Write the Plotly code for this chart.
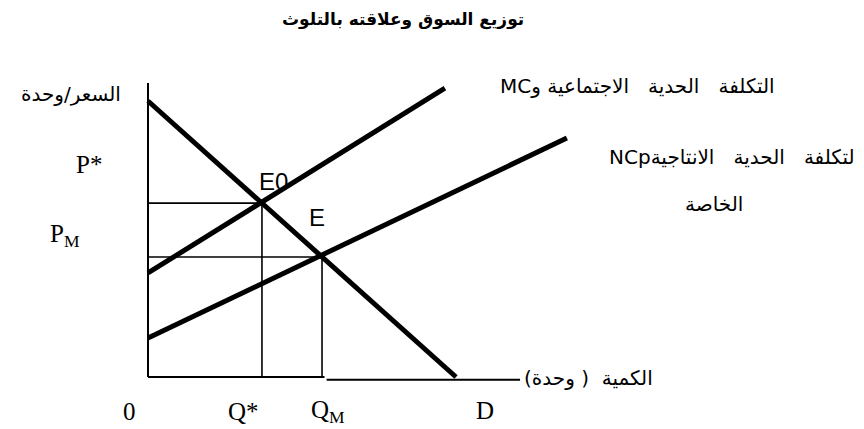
import plotly.graph_objects as go

# ---- data (economic diagram values) ----
demand_q = [0, 10]
demand_p = [10, 0]
social_mc_q = [0, 9.64]
social_mc_p = [3.77, 10.47]
private_mc_q = [0, 13.6]
private_mc_p = [1.41, 8.66]
q_star, p_star = 3.7, 6.3
q_m, p_m = 5.65, 4.35
y_axis_top = 10.65
x_axis_end = 12.08

# page has an 8px body margin, so the figure is drawn 8px in from the corner
OFF = 8
W, H = 864 - OFF, 429 - OFF
RLE, PDF = "\u202b", "\u202c"
SP = "\u00a0\u00a0\u00a0"

fig = go.Figure()

def line(xs, ys, w):
    fig.add_trace(go.Scatter(x=xs, y=ys, mode="lines", line=dict(color="black", width=w),
                             hoverinfo="skip", showlegend=False))

# axes
line([0, 0], [0, y_axis_top], 2)
line([0, q_m + 0.08], [0, 0], 2)
line([q_m + 0.15, x_axis_end], [-0.1, -0.1], 2)
# guide lines
line([0, q_star], [p_star, p_star], 1.6)
line([q_star, q_star], [0, p_star], 1.6)
line([0, q_m], [p_m, p_m], 1.6)
line([q_m, q_m], [0, p_m], 1.6)
# curves
line(demand_q, demand_p, 5)
line(social_mc_q, social_mc_p, 5)
line(private_mc_q, private_mc_p, 5)

def txt(s, px, py, size, family="DejaVu Sans", xanchor="center", bold=False):
    fig.add_annotation(text=("<b>%s</b>" % s) if bold else s, xref="paper", yref="paper",
                       x=(px - OFF) / W, y=1 - (py - OFF) / H, xanchor=xanchor, yanchor="middle",
                       showarrow=False, font=dict(family=family, size=size, color="black"))

serif = "Liberation Serif"
sans = "Liberation Sans"
ar = 20
txt("توزيع السوق وعلاقته بالتلوث", 403, 20, 17, bold=True)
txt(RLE + "السعر/وحدة" + PDF, 71, 94, ar)
txt("P*", 89, 164, 25, serif)
txt("P<sub>M</sub>", 65, 235, 25, serif)
txt("E0", 273, 181, 24, sans)
txt("E", 317, 217, 24, sans)
txt(RLE + "التكلفة" + SP + "الحدية" + SP + "الاجتماعية" + " وMC" + PDF, 777, 86, ar, xanchor="right")
txt(RLE + "التكلفة" + SP + "الحدية" + SP + "الانتاجية" + "NCp" + PDF, 862, 157, ar, xanchor="right")
txt("الخاصة", 714, 204, ar)
txt(RLE + "الكمية" + "\u00a0\u00a0" + "(" + "\u00a0" + "وحدة)" + PDF, 522, 378, ar, xanchor="left")
txt("0", 129, 411, 25, serif)
txt("Q*", 243, 411, 25, serif)
txt("Q<sub>M</sub>", 328, 411, 25, serif)
txt("D", 485, 410, 25, serif)

fig.update_layout(
    width=W, height=H, margin=dict(l=0, r=0, t=0, b=0),
    paper_bgcolor="white", plot_bgcolor="white",
    xaxis=dict(range=[-(148 - OFF) / 30.8, (864 - 148) / 30.8], visible=False, fixedrange=True),
    yaxis=dict(range=[-(429 - 377) / 27.6, (377 - OFF) / 27.6], visible=False, fixedrange=True),
)
fig.write_html("out.html")
